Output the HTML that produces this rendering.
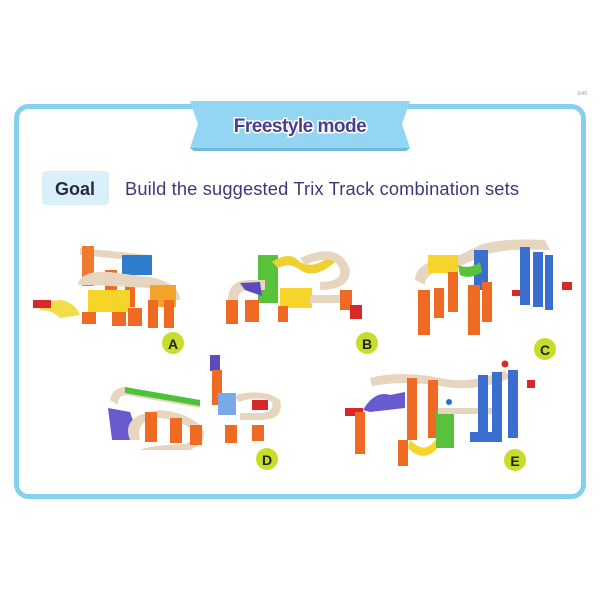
<!DOCTYPE html>
<html><head><meta charset="utf-8"><style>
body{margin:0;width:600px;height:600px;background:#fff;overflow:hidden;font-family:"Liberation Sans",sans-serif}
</style></head><body>
<svg width="600" height="600" viewBox="0 0 600 600" xmlns="http://www.w3.org/2000/svg">
<text x="587" y="95" font-size="5" fill="#999" text-anchor="end">5/40</text>
<rect x="16.5" y="106.5" width="567" height="390" rx="12" fill="#fff" stroke="#86d0ef" stroke-width="5"/>
<polygon points="190,101 410,101 402,124 410,148 190,148 198,124" fill="#92d6f3"/>
<polygon points="190,148 410,148 406,151 194,151" fill="#6fb9da"/>
<text x="300" y="132" font-size="19" font-weight="bold" fill="#4a3f8f" text-anchor="middle" stroke="#fff" stroke-width="3" paint-order="stroke" letter-spacing="-0.5">Freestyle mode</text>
<rect x="42" y="171" width="67" height="34" rx="4" fill="#d9f0fb"/>
<text x="75" y="195" font-size="18" font-weight="bold" fill="#2a2a3a" text-anchor="middle">Goal</text>
<text x="125" y="195" font-size="18.3" fill="#3a3a7a" textLength="394">Build the suggested Trix Track combination sets</text>

<g stroke="none">
<path d="M80,248 L150,255 L150,262 L80,255Z" fill="#e6d6c0"/>
<rect x="82" y="246" width="12" height="40" fill="#f07a2e"/>
<rect x="122" y="255" width="30" height="20" fill="#2f7dcf"/>
<rect x="105" y="270" width="12" height="35" fill="#ef6a22"/>
<rect x="125" y="275" width="10" height="32" fill="#ef6a22"/>
<path d="M78,285 Q80,270 110,272 L155,278 Q180,285 180,300 L170,300 Q170,290 150,288 L90,285Z" fill="#e6d6c0"/>
<rect x="88" y="290" width="42" height="22" fill="#f5d52a"/>
<rect x="150" y="285" width="26" height="22" fill="#f4a42a"/>
<rect x="148" y="300" width="10" height="28" fill="#ef6a22"/>
<rect x="164" y="300" width="10" height="28" fill="#ef6a22"/>
<rect x="128" y="308" width="14" height="18" fill="#ef6a22"/>
<rect x="112" y="312" width="14" height="14" fill="#ef6a22"/>
<rect x="82" y="312" width="14" height="12" fill="#ef6a22"/>
<path d="M40,302 L60,300 Q75,302 80,315 L60,318 Q52,310 40,310Z" fill="#f0dd4a"/>
<rect x="33" y="300" width="18" height="8" fill="#d8282a"/>
<circle cx="173" cy="343" r="11" fill="#c8dc2c"/>
<text x="173" y="349" font-size="14" font-weight="bold" fill="#222" text-anchor="middle">A</text>
<rect x="258" y="255" width="20" height="48" fill="#5ac23a"/>
<path d="M272,262 Q290,250 300,262 Q315,270 330,255 L335,262 Q315,280 300,270 Q290,262 278,268Z" fill="#f0d030"/>
<path d="M300,258 Q340,240 350,270 Q350,290 320,290 L320,282 Q342,282 340,270 Q335,252 305,265Z" fill="#e6d6c0"/>
<path d="M228,300 Q228,280 250,280 L265,280 L265,290 L250,290 Q238,290 238,300Z" fill="#e6d6c0"/>
<path d="M240,283 L260,282 L262,296 L245,290Z" fill="#5a4bbf"/>
<rect x="226" y="300" width="12" height="24" fill="#ef6a22"/>
<rect x="245" y="300" width="14" height="22" fill="#ef6a22"/>
<rect x="280" y="288" width="32" height="20" fill="#f5d52a"/>
<rect x="278" y="306" width="10" height="16" fill="#ef6a22"/>
<rect x="310" y="295" width="36" height="8" fill="#e6d6c0"/>
<rect x="340" y="290" width="12" height="20" fill="#ef6a22"/>
<rect x="350" y="305" width="12" height="14" fill="#d8282a"/>
<circle cx="367" cy="343" r="11" fill="#c8dc2c"/>
<text x="367" y="349" font-size="14" font-weight="bold" fill="#222" text-anchor="middle">B</text>
<path d="M415,280 Q415,260 460,255 L480,245 Q500,238 545,240 L550,250 Q505,248 485,255 L460,266 Q425,270 425,285Z" fill="#e6d6c0"/>
<rect x="428" y="255" width="30" height="18" fill="#f5d52a"/>
<rect x="474" y="250" width="14" height="40" fill="#3a6fcf"/>
<path d="M458,265 Q470,270 480,262 L482,272 Q470,280 460,275Z" fill="#5ac23a"/>
<rect x="418" y="290" width="12" height="45" fill="#ef6a22"/>
<rect x="434" y="288" width="10" height="30" fill="#ef6a22"/>
<rect x="448" y="272" width="10" height="40" fill="#ef6a22"/>
<rect x="468" y="285" width="12" height="50" fill="#ef6a22"/>
<rect x="482" y="282" width="10" height="40" fill="#ef6a22"/>
<rect x="520" y="247" width="10" height="58" fill="#3a6fcf"/>
<rect x="533" y="252" width="10" height="55" fill="#3a6fcf"/>
<rect x="545" y="255" width="8" height="55" fill="#3a6fcf"/>
<rect x="512" y="290" width="8" height="6" fill="#d8282a"/>
<rect x="562" y="282" width="10" height="8" fill="#d8282a"/>
<circle cx="545" cy="349" r="11" fill="#c8dc2c"/>
<text x="545" y="355" font-size="14" font-weight="bold" fill="#222" text-anchor="middle">C</text>
<rect x="210" y="355" width="10" height="16" fill="#5a4bbf"/>
<rect x="212" y="370" width="10" height="35" fill="#ef6a22"/>
<path d="M110,400 Q112,388 125,387 L200,400 L200,408 L125,395 Q118,396 118,405Z" fill="#e6d6c0"/>
<path d="M125,387 L200,400 L200,406 L125,393Z" fill="#4cc23a"/>
<path d="M108,408 L130,412 L140,440 L112,440Z" fill="#6a5acf"/>
<path d="M130,440 Q120,415 160,410 Q185,412 200,425 Q212,440 190,450 L140,450 Q150,445 185,444 Q200,438 190,428 Q175,418 158,418 Q135,420 140,440Z" fill="#e6d6c0"/>
<rect x="145" y="412" width="12" height="30" fill="#ef6a22"/>
<rect x="170" y="418" width="12" height="25" fill="#ef6a22"/>
<rect x="190" y="425" width="12" height="20" fill="#ef6a22"/>
<rect x="218" y="393" width="18" height="22" fill="#7aa8e8"/>
<path d="M235,395 Q265,388 280,400 Q285,420 260,420 L240,420 L240,413 L260,413 Q275,412 272,402 Q262,395 238,402Z" fill="#e6d6c0"/>
<rect x="252" y="400" width="16" height="10" fill="#d8282a"/>
<rect x="225" y="425" width="12" height="18" fill="#ef6a22"/>
<rect x="252" y="425" width="12" height="16" fill="#ef6a22"/>
<circle cx="267" cy="459" r="11" fill="#c8dc2c"/>
<text x="267" y="465" font-size="14" font-weight="bold" fill="#222" text-anchor="middle">D</text>
<path d="M370,378 Q400,370 440,378 Q470,385 505,370 L510,378 Q475,393 440,386 Q405,380 372,386Z" fill="#e6d6c0"/>
<rect x="407" y="378" width="10" height="62" fill="#ef6a22"/>
<rect x="428" y="380" width="10" height="58" fill="#ef6a22"/>
<path d="M363,410 Q375,390 390,395 L405,392 L405,408 L370,412Z" fill="#6a5acf"/>
<rect x="345" y="408" width="18" height="8" fill="#d8282a"/>
<rect x="355" y="412" width="10" height="42" fill="#ef6a22"/>
<rect x="398" y="440" width="10" height="26" fill="#ef6a22"/>
<path d="M410,440 Q425,455 435,440 L440,445 Q425,465 408,448Z" fill="#f5d52a"/>
<rect x="436" y="410" width="18" height="38" fill="#5ac23a"/>
<rect x="438" y="408" width="60" height="6" fill="#e6d6c0"/>
<rect x="478" y="375" width="10" height="65" fill="#3a6fcf"/>
<rect x="492" y="372" width="10" height="70" fill="#3a6fcf"/>
<rect x="508" y="370" width="10" height="68" fill="#3a6fcf"/>
<rect x="470" y="432" width="28" height="10" fill="#3a6fcf"/>
<rect x="527" y="380" width="8" height="8" fill="#d8282a"/>
<circle cx="449" cy="402" r="3" fill="#2a6fcf"/>
<circle cx="505" cy="364" r="3.5" fill="#d8282a"/>
<circle cx="515" cy="460" r="11" fill="#c8dc2c"/>
<text x="515" y="466" font-size="14" font-weight="bold" fill="#222" text-anchor="middle">E</text>
</g>
</svg>
</body></html>
